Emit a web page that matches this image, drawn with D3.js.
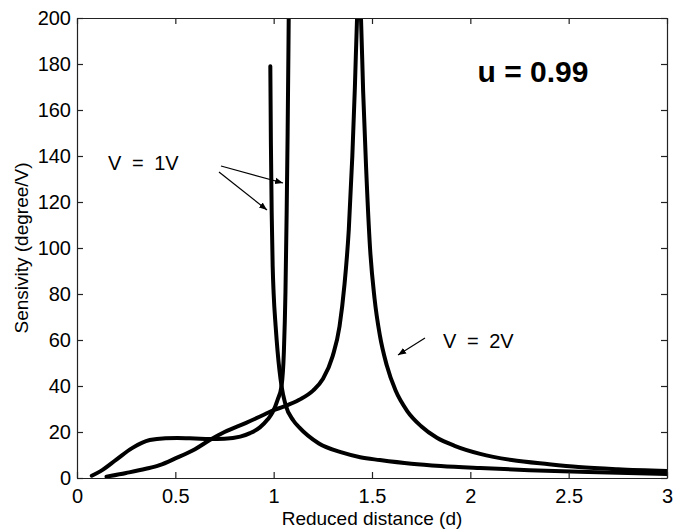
<!DOCTYPE html>
<html>
<head>
<meta charset="utf-8">
<script src="https://cdn.jsdelivr.net/npm/d3@7"></script>
<style>
  html, body { margin: 0; padding: 0; background: #fff; }
  svg { display: block; font-family: "Liberation Sans", Arial, Helvetica, sans-serif; }
</style>
</head>
<body>
<svg id="chart" width="694" height="531"></svg>
<script>
// Sensitivity vs reduced distance, u = 0.99

// V = 1V, rising branch: plateau, then up the asymptote near d = 1.075
const v1RiseD = [0.075, 0.12, 0.2, 0.28, 0.37, 0.45, 0.51, 0.6, 0.675, 0.75, 0.83, 0.88, 0.93, 0.97, 0.995, 1.02, 1.04, 1.052, 1.06, 1.066, 1.071, 1.075, 1.078];
const v1RiseS = [1, 3, 8, 13, 16.5, 17.3, 17.4, 17.2, 17, 17.1, 18, 19.5, 22, 25.5, 28.6, 34, 40, 55, 81, 115, 150, 185, 215];

// V = 1V, falling branch: from the short spike near d = 0.983 down the tail
const v1FallD = [0.983, 0.986, 0.99, 0.995, 1.0, 1.01, 1.02, 1.04, 1.06, 1.1, 1.13, 1.23, 1.35, 1.44, 1.54, 1.7, 1.85, 2.05, 2.3, 2.6, 3.0];
const v1FallS = [179, 145, 115, 92, 80, 66, 55, 40, 32, 25, 22, 15, 11, 9, 7.8, 6.2, 5.2, 4.3, 3.4, 2.6, 1.7];

// V = 2V: single resonance near d = 1.43
const v2D = [0.15, 0.25, 0.35, 0.42, 0.5, 0.6, 0.675, 0.75, 0.86, 0.95, 1.0, 1.05, 1.13, 1.2, 1.25, 1.3, 1.335, 1.36, 1.382, 1.4, 1.413, 1.424, 1.434, 1.444, 1.455, 1.47, 1.49, 1.513, 1.54, 1.575, 1.62, 1.68, 1.75, 1.83, 1.92, 2.05, 2.21, 2.4, 2.55, 2.75, 3.0];
const v2S = [0.6, 2.2, 4, 5.6, 8.5, 12.5, 16.5, 20, 24, 27.5, 29.5, 31, 34, 38, 43, 53, 66, 84, 108, 140, 170, 200, 215, 200, 168, 135, 100, 78, 62, 49, 38, 29, 22.5, 17.5, 14, 10.5, 7.8, 6, 4.8, 3.8, 3];

const xTicks = [0, 0.5, 1, 1.5, 2, 2.5, 3];
const yTicks = [0, 20, 40, 60, 80, 100, 120, 140, 160, 180, 200];

const svg = d3.select("#chart");
const margin = { left: 77, right: 27, top: 18, bottom: 53 };
const W = 694, H = 531;
const iw = W - margin.left - margin.right;
const ih = H - margin.top - margin.bottom;

const x = d3.scaleLinear().domain([0, 3]).range([margin.left, margin.left + iw]);
const y = d3.scaleLinear().domain([0, 200]).range([margin.top + ih, margin.top]);

svg.append("defs").append("clipPath").attr("id", "plot-clip")
  .append("rect")
  .attr("x", margin.left).attr("y", margin.top)
  .attr("width", iw).attr("height", ih);

// Curves
const line = d3.line()
  .x(d => x(d[0])).y(d => y(d[1]))
  .curve(d3.curveMonotoneX);

const series = [
  d3.zip(v1RiseD, v1RiseS),
  d3.zip(v1FallD, v1FallS),
  d3.zip(v2D, v2S)
];

svg.append("g").attr("clip-path", "url(#plot-clip)")
  .selectAll("path").data(series).join("path")
  .attr("d", line)
  .attr("fill", "none")
  .attr("stroke", "#000")
  .attr("stroke-width", 4)
  .attr("stroke-linejoin", "round")
  .attr("stroke-linecap", "round");

// Axes (ticks pointing inward, boxed frame)
const tickLen = 6;
const tickFont = 20;
const titleFont = 19;

svg.append("g")
  .attr("transform", `translate(0,${margin.top + ih})`)
  .call(d3.axisBottom(x).tickValues(xTicks).tickFormat(d3.format("~g")).tickSizeInner(-tickLen).tickSizeOuter(0).tickPadding(11))
  .call(g => g.selectAll("text").attr("font-size", tickFont).attr("font-family", "Liberation Sans, Arial, sans-serif").attr("fill", "#000"));

svg.append("g")
  .attr("transform", `translate(${margin.left},0)`)
  .call(d3.axisLeft(y).tickValues(yTicks).tickFormat(d3.format("~g")).tickSizeInner(-tickLen).tickSizeOuter(0).tickPadding(6))
  .call(g => g.selectAll("text").attr("font-size", tickFont).attr("font-family", "Liberation Sans, Arial, sans-serif").attr("fill", "#000"));

svg.append("g")
  .attr("transform", `translate(0,${margin.top})`)
  .call(d3.axisTop(x).tickValues(xTicks).tickFormat("").tickSizeInner(-tickLen).tickSizeOuter(0));

svg.append("g")
  .attr("transform", `translate(${margin.left + iw},0)`)
  .call(d3.axisRight(y).tickValues(yTicks).tickFormat("").tickSizeInner(-tickLen).tickSizeOuter(0));

svg.selectAll(".domain").attr("stroke", "#222").attr("stroke-width", 1.2);
svg.selectAll(".tick line").attr("stroke", "#222").attr("stroke-width", 1.2);

// Axis titles
svg.append("text")
  .attr("x", x(1.5)).attr("y", H - 6)
  .attr("text-anchor", "middle")
  .attr("font-size", titleFont)
  .text("Reduced distance (d)");

svg.append("text")
  .attr("transform", `translate(28,${y(100)}) rotate(-90)`)
  .attr("text-anchor", "middle")
  .attr("font-size", titleFont)
  .text("Sensivity (degree/V)");

// Annotations
svg.append("text")
  .attr("x", 533).attr("y", 82)
  .attr("text-anchor", "middle")
  .attr("font-size", 30)
  .attr("font-weight", "bold")
  .text("u = 0.99");

svg.append("text")
  .attr("x", 108).attr("y", 170)
  .attr("font-size", 20)
  .attr("word-spacing", 5)
  .text("V = 1V");

svg.append("text")
  .attr("x", 443).attr("y", 348)
  .attr("font-size", 20)
  .attr("word-spacing", 5)
  .text("V = 2V");

const defs = svg.select("defs");
defs.append("marker").attr("id", "arrow")
  .attr("viewBox", "0 0 10 10").attr("refX", 10).attr("refY", 5)
  .attr("markerWidth", 8).attr("markerHeight", 8).attr("markerUnits", "userSpaceOnUse")
  .attr("orient", "auto")
  .append("path").attr("d", "M0,1 L10,5 L0,9 Z").attr("fill", "#000");

const arrows = [
  [[221, 166], [283, 183]],
  [[219, 172], [267, 210]],
  [[425, 338], [398, 355]]
];
svg.append("g").selectAll("line").data(arrows).join("line")
  .attr("x1", d => d[0][0]).attr("y1", d => d[0][1])
  .attr("x2", d => d[1][0]).attr("y2", d => d[1][1])
  .attr("stroke", "#000").attr("stroke-width", 1.2)
  .attr("marker-end", "url(#arrow)");
</script>
</body>
</html>
